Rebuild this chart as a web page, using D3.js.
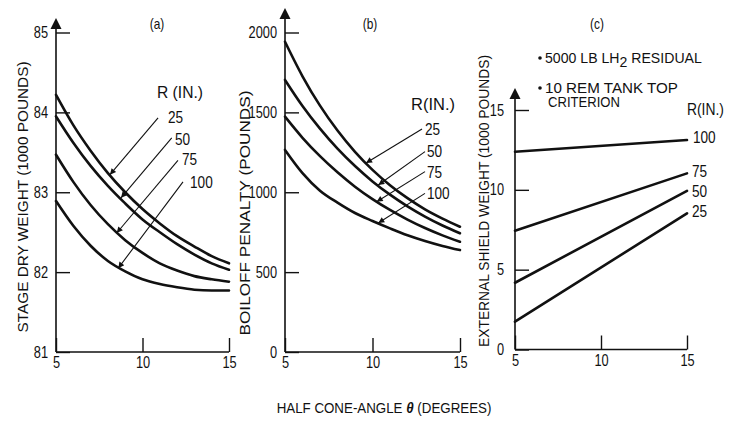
<!DOCTYPE html>
<html>
<head>
<meta charset="utf-8">
<script src="https://cdn.jsdelivr.net/npm/d3@7"></script>
<style>
body { margin: 0; background: #fff; }
svg { display: block; }
text { font-family: "Liberation Sans", Arial, sans-serif; fill: #111; }
.axis path.domain { display: none; }
.axis line { stroke: #111; stroke-width: 1.4; }
.curve { fill: none; stroke: #111; stroke-width: 2.6; stroke-linecap: round; }
.leader { stroke: #111; stroke-width: 1.1; }
.lbl { font-size: 16px; }
.note { font-size: 14px; }
.title { font-size: 14px; }
</style>
</head>
<body>
<svg class="chart"></svg>
<script>
var angles = [5, 6, 7, 8, 9, 10, 11, 12, 13, 14, 15];
var lineAngles = [5, 15];
var radii = ["25", "50", "75", "100"];

// (a) stage dry weight, 1000 lb
var dryWeight25 = [84.22, 83.84, 83.52, 83.24, 83.0, 82.79, 82.61, 82.45, 82.32, 82.2, 82.11];
var dryWeight50 = [83.95, 83.62, 83.33, 83.08, 82.86, 82.66, 82.5, 82.35, 82.22, 82.11, 82.03];
var dryWeight75 = [83.47, 83.13, 82.84, 82.6, 82.4, 82.24, 82.11, 82.02, 81.95, 81.91, 81.88];
var dryWeight100 = [82.89, 82.58, 82.33, 82.14, 82.01, 81.91, 81.85, 81.81, 81.78, 81.77, 81.77];

// (b) boiloff penalty, lb
var boiloff25 = [1942, 1726, 1542, 1386, 1253, 1140, 1044, 963, 893, 835, 784];
var boiloff50 = [1703, 1540, 1398, 1273, 1164, 1068, 985, 912, 848, 792, 743];
var boiloff75 = [1473, 1341, 1226, 1125, 1035, 957, 889, 829, 776, 730, 690];
var boiloff100 = [1265, 1120, 1010, 935, 870, 820, 774, 731, 695, 664, 638];

// (c) external shield weight, 1000 lb (straight lines)
var shield25 = [1.74, 8.53];
var shield50 = [4.18, 9.94];
var shield75 = [7.44, 11.03];
var shield100 = [12.39, 13.12];

var dryTicks = [81, 82, 83, 84, 85];
var boiloffTicks = [0, 500, 1000, 1500, 2000];
var shieldTicks = [0, 5, 10, 15];
var angleTicks = [5, 10, 15];

var panels = [
    {
        left: 56, right: 229, bottom: 352, top: 32.5, arrowTop: 18, pad: 8,
        domain: [81, 85], ticks: dryTicks, xs: angles, smooth: true,
        series: [dryWeight25, dryWeight50, dryWeight75, dryWeight100],
        header: "(a)", headerX: 157,
        title: "STAGE DRY WEIGHT (1000 POUNDS)", titleX: 28, titleY: 197, titleLen: 271,
        rLabel: "R (IN.)", rAt: [10.84, 84.18], rWidth: 46,
        labelAt: [[11.47, 83.87], [11.88, 83.59], [12.28, 83.34], [12.75, 83.05]],
        leaders: [[[10.9, 83.93], [8.12, 83.22]], [[11.69, 83.68], [8.76, 82.93]],
                  [[12.05, 83.40], [8.51, 82.49]], [[12.34, 83.13], [8.6, 82.05]]]
    },
    {
        left: 285, right: 460, bottom: 352, top: 32.5, arrowTop: 8, pad: 8,
        domain: [0, 2000], ticks: boiloffTicks, xs: angles, smooth: true,
        series: [boiloff25, boiloff50, boiloff75, boiloff100],
        header: "(b)", headerX: 370,
        title: "BOILOFF PENALTY (POUNDS)", titleX: 250, titleY: 213, titleLen: 245,
        rLabel: "R(IN.)", rAt: [12.2, 1515], rWidth: 44,
        labelAt: [[13.0, 1358], [13.11, 1221], [13.11, 1089], [13.11, 958]],
        leaders: [[[12.83, 1396], [9.63, 1183]], [[13.0, 1254], [10.33, 1045]],
                  [[13.0, 1129], [10.24, 941]], [[13.0, 993], [10.33, 808]]]
    },
    {
        left: 515, right: 687, bottom: 349.5, top: 110, arrowTop: 88, pad: 11,
        domain: [0, 15], ticks: shieldTicks, xs: lineAngles, smooth: false,
        series: [shield25, shield50, shield75, shield100],
        header: "(c)", headerX: 597,
        title: "EXTERNAL SHIELD WEIGHT (1000 POUNDS)", titleX: 489, titleY: 201, titleLen: 292,
        rLabel: "R(IN.)", rAt: [15.0, 14.68], rWidth: 37,
        labelAt: [[15.29, 8.30], [15.29, 9.55], [15.29, 10.80], [15.35, 12.93]],
        leaders: []
    }
];

var svg = d3.select(".chart").attr("width", 738).attr("height", 423);

svg.append("defs").append("marker")
    .attr("id", "head")
    .attr("viewBox", "0 0 10 10")
    .attr("refX", 10).attr("refY", 5)
    .attr("markerUnits", "userSpaceOnUse")
    .attr("markerWidth", 9).attr("markerHeight", 6)
    .attr("orient", "auto")
    .append("path").attr("d", "M0,0L10,5L0,10Z").attr("fill", "#111");

// squeeze text horizontally to get the narrow lettering of the original
function narrow(sel, k) {
    sel.each(function() {
        var t = d3.select(this);
        var x = +t.attr("x") || 0;
        t.attr("x", x / k).attr("transform", "scale(" + k + ",1)");
    });
}

// squeeze a text to a given rendered width
function fit(sel, width) {
    sel.each(function() {
        narrow(d3.select(this), width / this.getComputedTextLength());
    });
}

function styleTicks(sel) {
    sel.selectAll("text")
        .style("font-size", "16px")
        .style("font-family", "'Liberation Sans', Arial, sans-serif")
        .attr("fill", "#111");
    narrow(sel.selectAll("text"), 0.8);
}

function drawPanel(p) {
    var x = d3.scaleLinear().domain([5, 15]).range([p.left, p.right]);
    var y = d3.scaleLinear().domain(p.domain).range([p.bottom, p.top]);
    var g = svg.append("g");

    var yAxis = d3.axisLeft(y).tickValues(p.ticks).tickFormat(d3.format("d"))
        .tickSizeInner(-14).tickSizeOuter(0).tickPadding(p.pad);
    g.append("g").attr("class", "axis")
        .attr("transform", "translate(" + p.left + ",0)")
        .call(yAxis)
        .call(styleTicks);

    var xAxis = d3.axisBottom(x).tickValues(angleTicks).tickFormat(d3.format("d"))
        .tickSizeInner(-14).tickSizeOuter(0).tickPadding(5);
    g.append("g").attr("class", "axis")
        .attr("transform", "translate(0," + p.bottom + ")")
        .call(xAxis)
        .call(styleTicks);

    // axis lines with arrow at top
    g.append("line")
        .attr("x1", p.left).attr("x2", p.right)
        .attr("y1", p.bottom).attr("y2", p.bottom)
        .attr("stroke", "#111").attr("stroke-width", 1.6);
    g.append("line")
        .attr("x1", p.left).attr("x2", p.left)
        .attr("y1", p.bottom).attr("y2", p.arrowTop + 6)
        .attr("stroke", "#111").attr("stroke-width", 1.6);
    g.append("path")
        .attr("d", "M" + p.left + "," + p.arrowTop + "l-5.5,11h11z")
        .attr("fill", "#111");

    var line = d3.line()
        .x(function(d) { return x(d[0]); })
        .y(function(d) { return y(d[1]); })
        .curve(p.smooth ? d3.curveMonotoneX : d3.curveLinear);

    g.selectAll(".curve")
        .data(p.series)
        .enter()
        .append("path")
        .attr("class", "curve")
        .attr("d", function(s) {
            return line(s.map(function(v, i) { return [p.xs[i], v]; }));
        });

    g.selectAll(".leader")
        .data(p.leaders)
        .enter()
        .append("line")
        .attr("class", "leader")
        .attr("x1", function(d) { return x(d[0][0]); })
        .attr("y1", function(d) { return y(d[0][1]); })
        .attr("x2", function(d) { return x(d[1][0]); })
        .attr("y2", function(d) { return y(d[1][1]); })
        .attr("marker-end", "url(#head)");

    var labels = g.selectAll(".lbl")
        .data(p.labelAt)
        .enter()
        .append("text")
        .attr("class", "lbl")
        .attr("x", function(d) { return x(d[0]); })
        .attr("y", function(d) { return y(d[1]); })
        .text(function(d, i) { return radii[i]; });
    narrow(labels, 0.85);

    var rl = g.append("text").attr("class", "lbl")
        .attr("x", x(p.rAt[0])).attr("y", y(p.rAt[1]))
        .text(p.rLabel);
    fit(rl, p.rWidth);

    var hd = g.append("text").attr("class", "title")
        .attr("x", p.headerX).attr("y", 29)
        .attr("text-anchor", "middle")
        .text(p.header);
    narrow(hd, 0.85);

    g.append("text").attr("class", "title")
        .attr("transform", "translate(" + p.titleX + "," + p.titleY + ") rotate(-90)")
        .attr("text-anchor", "middle")
        .attr("textLength", p.titleLen)
        .attr("lengthAdjust", "spacingAndGlyphs")
        .text(p.title);
}

panels.forEach(drawPanel);

// notes in panel (c)
var notes = svg.append("g");
notes.append("circle").attr("cx", 540).attr("cy", 58).attr("r", 1.8).attr("fill", "#111");
notes.append("circle").attr("cx", 540).attr("cy", 88).attr("r", 1.8).attr("fill", "#111");
var n1 = notes.append("text").attr("class", "note").attr("x", 545).attr("y", 63);
n1.append("tspan").text("5000 LB LH");
n1.append("tspan").attr("dy", 4).text("2");
n1.append("tspan").attr("dy", -4).text(" RESIDUAL");
fit(n1, 157);
fit(notes.append("text").attr("class", "note").attr("x", 545).attr("y", 93)
    .text("10 REM TANK TOP"), 133);
fit(notes.append("text").attr("class", "note").attr("x", 548).attr("y", 107.5)
    .text("CRITERION"), 72);

// common x title
var xt = svg.append("text").attr("class", "title")
    .attr("x", 384).attr("y", 413)
    .attr("text-anchor", "middle");
xt.append("tspan").text("HALF CONE-ANGLE ");
xt.append("tspan").attr("font-weight", "bold").attr("font-style", "italic").text("θ");
xt.append("tspan").text(" (DEGREES)");
fit(xt, 215);
</script>
</body>
</html>
